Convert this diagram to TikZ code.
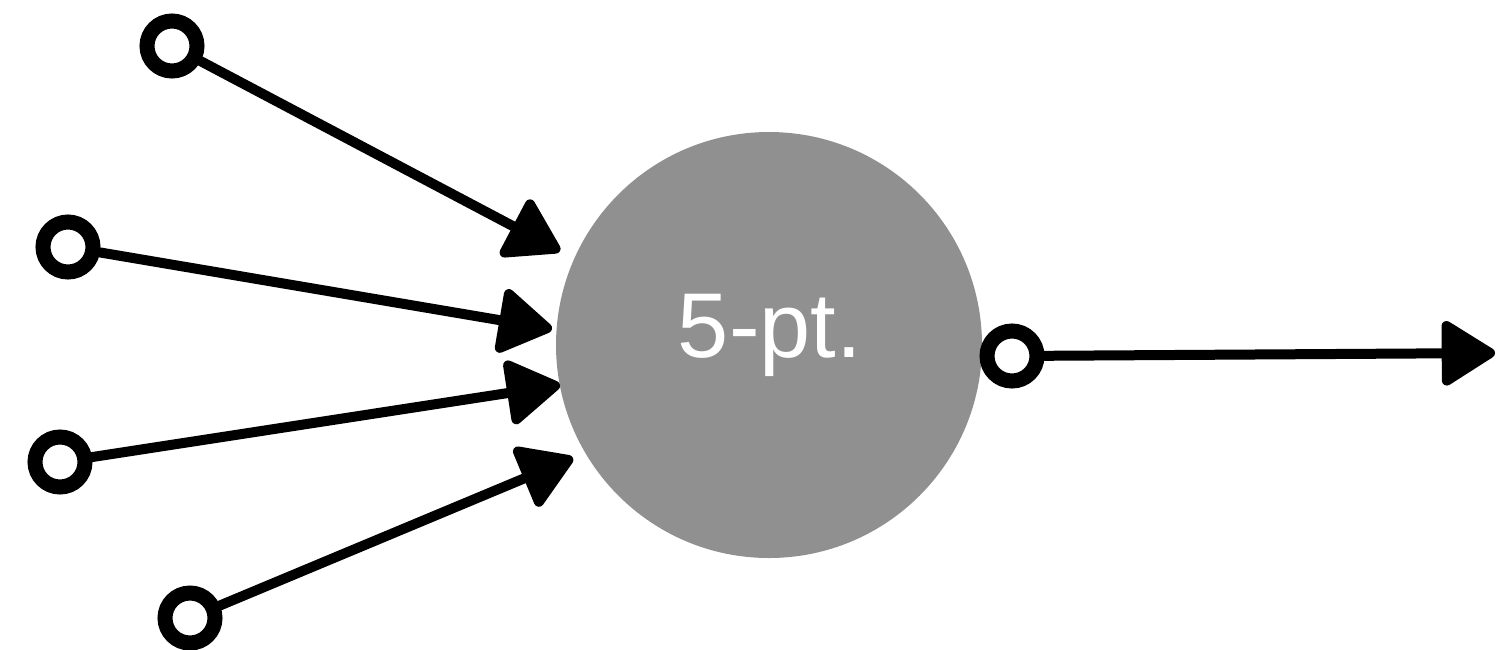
\documentclass[tikz,border=0pt]{standalone}
\usepackage{fontspec}
\setmainfont{Liberation Sans}
\usetikzlibrary{arrows.meta}
\definecolor{bubble}{RGB}{144,144,144}
\tikzset{
  ring/.style={circle,draw=black,line width=15pt,minimum size=50pt,inner sep=0pt,fill=white},
  conn/.style={line width=10pt,line cap=round,-{Triangle[length=58pt,width=70pt,round]}},
}
\begin{document}
\begin{tikzpicture}[x=1pt,y=-1pt]
\useasboundingbox (0,0) rectangle (1501,649);
\node[circle,fill=bubble,minimum size=426pt,inner sep=0pt] (core) at (769,345) {};
\node[anchor=base,text=white,font=\fontsize{92}{92}\selectfont] (lbl) at (770,357) {5-pt.};
\node[ring] (i1) at (172,46) {};
\node[ring] (i2) at (68,247) {};
\node[ring] (i3) at (60,462) {};
\node[ring] (i4) at (190,618) {};
\node[ring] (o1) at (1012,356) {};
\coordinate (t1) at (560,251);
\coordinate (t2) at (552,329);
\coordinate (t3) at (560,385);
\coordinate (t4) at (573,458);
\coordinate (t5) at (1495,353);
\draw[conn] (i1) -- (t1);
\draw[conn] (i2) -- (t2);
\draw[conn] (i3) -- (t3);
\draw[conn] (i4) -- (t4);
\draw[conn] (o1) -- (t5);
\end{tikzpicture}
\end{document}
